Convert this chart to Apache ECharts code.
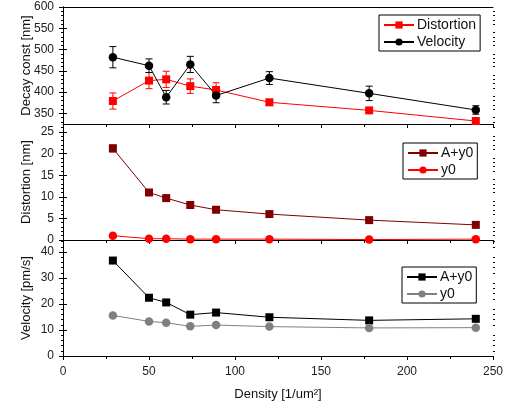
<!DOCTYPE html>
<html>
<head>
<meta charset="utf-8">
<script src="https://cdn.jsdelivr.net/npm/echarts@6/dist/echarts.min.js"></script>
<style>html,body{margin:0;padding:0;background:#fff}#c{width:510px;height:408px}</style>
</head>
<body>
<div id="c"></div>
<script>
// ---- data ----
const density = [29, 50, 60, 74, 89, 120, 178, 240];

const decayDistortion    = [379, 427, 430, 414, 405, 376, 357, 332];
const decayDistortionErr = [19, 19, 19, 17, 17, 5, 5, 4];
const decayVelocity      = [482, 462, 388, 465, 392, 433, 397, 358];
const decayVelocityErr   = [25, 16, 16, 19, 17, 15, 17, 10];

const distortionA  = [21.2, 11.0, 9.7, 8.1, 7.0, 6.0, 4.6, 3.5];
const distortionAErr = [0.8, 0.3, 0.3, 0.3, 0.2, 0.2, 0.2, 0.2];
const distortionY0 = [1.0, 0.3, 0.3, 0.2, 0.2, 0.2, 0.1, 0.2];

const velocityA  = [36.7, 22.4, 20.6, 15.9, 16.7, 14.9, 13.7, 14.3];
const velocityY0 = [15.6, 13.3, 12.8, 11.4, 11.9, 11.3, 10.8, 10.9];

const xTicks = [0, 50, 100, 150, 200, 250];
const xMinorTicks = [25, 75, 125, 175, 225];
const decayTicks = [350, 400, 450, 500, 550, 600];
const decayMinor = [330, 340, 360, 370, 380, 390, 410, 420, 430, 440, 460, 470, 480, 490, 510, 520, 530, 540, 560, 570, 580, 590];
const distTicks = [0, 5, 10, 15, 20, 25];
const distMinor = [1,2,3,4,6,7,8,9,11,12,13,14,16,17,18,19,21,22,23,24,26];
const velTicks = [0, 10, 20, 30, 40];
const velMinor = [2,4,6,8,12,14,16,18,22,24,26,28,32,34,36,38,42,44];

// ---- layout ----
const FONT = 'Liberation Sans, Arial, sans-serif';
const grids = [
  {left: 63, right: 17, top: 7, height: 117},
  {left: 63, right: 17, top: 124, height: 116},
  {left: 63, right: 17, top: 240, height: 116}
];
const yRanges = [[325, 600], [0, 26.85], [0, 44.6]];
const yMajors = [decayTicks, distTicks, velTicks];
const yMinors = [decayMinor, distMinor, velMinor];
const yNames = ['Decay const [nm]', 'Distortion [nm]', 'Velocity [pm/s]'];

const yAxes = [];
const yMainIndex = [];
grids.forEach((g, gi) => {
  yMainIndex.push(yAxes.length);
  const [mn, mx] = yRanges[gi];
  yAxes.push({
    gridIndex: gi, type: 'value', position: 'left', min: mn, max: mx,
    name: yNames[gi], nameLocation: 'middle', nameGap: 30, nameMoveOverlap: false,
    nameTextStyle: {fontFamily: FONT, fontSize: 13, color: '#111'},
    splitLine: {show: false},
    axisLine: {show: true, lineStyle: {color: '#000', width: 1}},
    axisTick: {show: true, inside: false, length: 4, customValues: yMajors[gi], lineStyle: {color: '#000'}},
    axisLabel: {show: true, margin: 9, customValues: yMajors[gi], fontFamily: FONT, fontSize: 12, color: '#222'}
  });
  yAxes.push({
    gridIndex: gi, type: 'value', position: 'left', min: mn, max: mx,
    splitLine: {show: false}, axisLine: {show: false},
    axisTick: {show: true, inside: false, length: 2, customValues: yMinors[gi], lineStyle: {color: '#000'}},
    axisLabel: {show: false}
  });
  yAxes.push({
    gridIndex: gi, type: 'value', position: 'right', min: mn, max: mx,
    splitLine: {show: false},
    axisLine: {show: true, lineStyle: {color: '#000', width: 1}},
    axisTick: {show: true, inside: false, length: 4, customValues: yMajors[gi], lineStyle: {color: '#000'}},
    axisLabel: {show: false}
  });
  yAxes.push({
    gridIndex: gi, type: 'value', position: 'right', min: mn, max: mx,
    splitLine: {show: false}, axisLine: {show: false},
    axisTick: {show: true, inside: false, length: 2, customValues: yMinors[gi], lineStyle: {color: '#000'}},
    axisLabel: {show: false}
  });
});

const xAxes = [];
grids.forEach((g, gi) => {
  const last = gi === grids.length - 1;
  xAxes.push({
    gridIndex: gi, type: 'value', position: 'bottom', min: 0, max: 250,
    name: last ? 'Density [1/um\u00B2]' : '', nameLocation: 'middle', nameGap: 32, nameMoveOverlap: false,
    nameTextStyle: {fontFamily: FONT, fontSize: 13, color: '#111'},
    splitLine: {show: false},
    axisLine: {show: true, lineStyle: {color: '#000', width: 1}},
    axisTick: {show: true, inside: false, length: 4, customValues: xTicks, lineStyle: {color: '#000'}},
    axisLabel: {show: last, margin: 10, customValues: xTicks, fontFamily: FONT, fontSize: 12, color: '#222'}
  });
  xAxes.push({
    gridIndex: gi, type: 'value', position: 'bottom', min: 0, max: 250,
    splitLine: {show: false}, axisLine: {show: false},
    axisTick: {show: true, inside: false, length: 3, customValues: xMinorTicks, lineStyle: {color: '#000'}},
    axisLabel: {show: false}
  });
  xAxes.push({
    gridIndex: gi, type: 'value', position: 'top', min: 0, max: 250,
    splitLine: {show: false},
    axisLine: {show: true, lineStyle: {color: '#000', width: 1}},
    axisTick: {show: false}, axisLabel: {show: false}
  });
});

function pairs(vals) { return density.map((d, i) => [d, vals[i]]); }
function triples(vals, errs) { return density.map((d, i) => [d, vals[i], errs[i]]); }

function lineSeries(name, gi, vals, color, symbol) {
  return {
    name: name, type: 'line', xAxisIndex: gi * 3, yAxisIndex: yMainIndex[gi],
    data: pairs(vals), symbol: symbol, symbolSize: symbol === 'rect' ? 8 : 8.5,
    lineStyle: {color: color, width: 1}, itemStyle: {color: color},
    emphasis: {disabled: true}, z: 3, animation: false
  };
}
function errSeries(gi, vals, errs, color) {
  return {
    type: 'custom', xAxisIndex: gi * 3, yAxisIndex: yMainIndex[gi],
    data: triples(vals, errs), z: 2, animation: false, silent: true,
    renderItem: function (params, api) {
      const x = api.value(0), y = api.value(1), e = api.value(2);
      const top = api.coord([x, y + e]);
      const bot = api.coord([x, y - e]);
      const w = 3.5;
      const st = {stroke: color, lineWidth: 1};
      return {type: 'group', children: [
        {type: 'line', shape: {x1: top[0], y1: top[1], x2: bot[0], y2: bot[1]}, style: st},
        {type: 'line', shape: {x1: top[0] - w, y1: top[1], x2: top[0] + w, y2: top[1]}, style: st},
        {type: 'line', shape: {x1: bot[0] - w, y1: bot[1], x2: bot[0] + w, y2: bot[1]}, style: st}
      ]};
    }
  };
}

const legendBase = {
  orient: 'vertical', borderColor: '#000', borderWidth: 1, borderRadius: 0,
  padding: [3, 4, 2, 4], itemWidth: 30, itemHeight: 9, itemGap: 3,
  backgroundColor: '#fff', selectedMode: false,
  textStyle: {fontFamily: FONT, fontSize: 14, color: '#111', padding: [0, 0, 0, -2]},
  formatter: n => n.split('|').pop()
};

const option = {
  animation: false,
  backgroundColor: '#fff',
  grid: grids,
  xAxis: xAxes,
  yAxis: yAxes,
  legend: [
    Object.assign({}, legendBase, {left: 379, top: 15, data: ['Distortion', 'Velocity']}),
    Object.assign({}, legendBase, {left: 403, top: 143, data: ['D|A+y0', 'D|y0']}),
    Object.assign({}, legendBase, {left: 402, top: 267, data: ['V|A+y0', 'V|y0']})
  ],
  series: [
    errSeries(0, decayDistortion, decayDistortionErr, '#ff0000'),
    errSeries(0, decayVelocity, decayVelocityErr, '#000000'),
    lineSeries('Distortion', 0, decayDistortion, '#ff0000', 'rect'),
    lineSeries('Velocity', 0, decayVelocity, '#000000', 'circle'),
    errSeries(1, distortionA, distortionAErr, '#800000'),
    lineSeries('D|A+y0', 1, distortionA, '#800000', 'rect'),
    lineSeries('D|y0', 1, distortionY0, '#ff0000', 'circle'),
    lineSeries('V|A+y0', 2, velocityA, '#000000', 'rect'),
    lineSeries('V|y0', 2, velocityY0, '#808080', 'circle')
  ]
};

const chart = echarts.init(document.getElementById('c'), null, {renderer: 'canvas'});
chart.setOption(option);
</script>
</body>
</html>
